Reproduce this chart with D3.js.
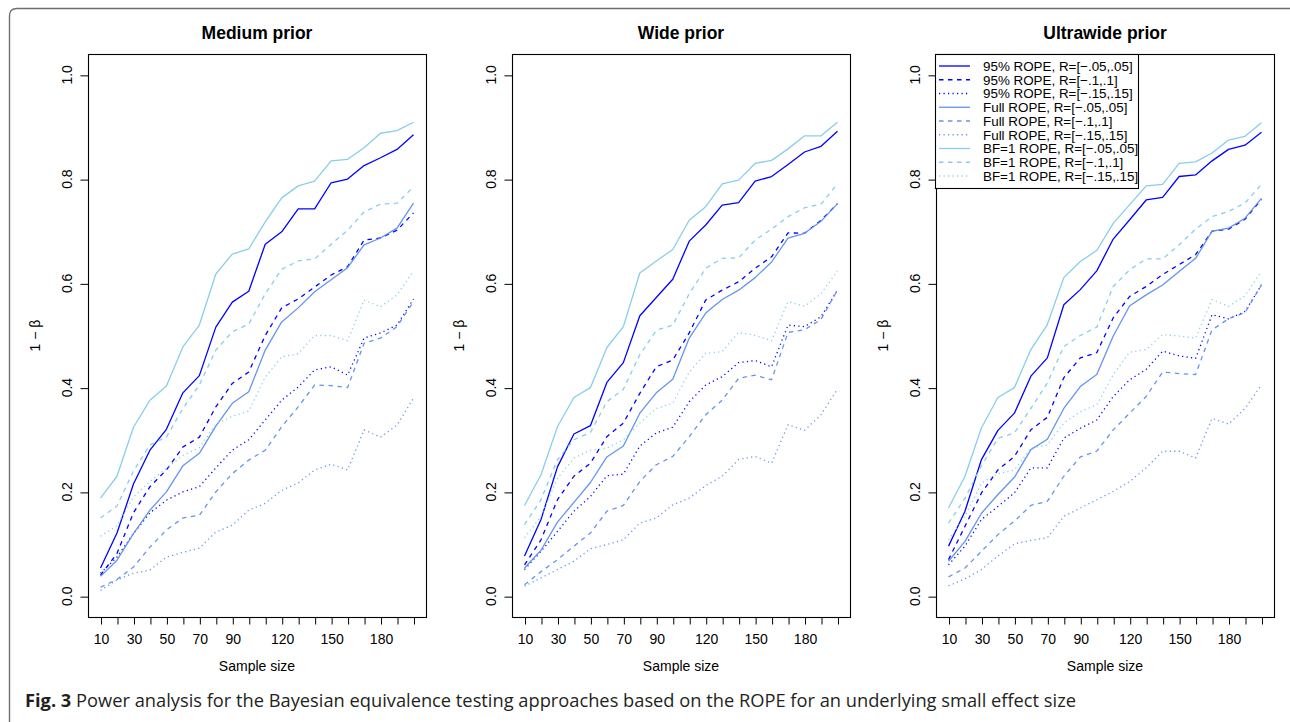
<!DOCTYPE html>
<html>
<head>
<meta charset="utf-8">
<script src="https://cdn.jsdelivr.net/npm/d3@7"></script>
<style>
  body { margin: 0; background: #fff; }
  svg { display: block; }
</style>
</head>
<body>
<svg id="fig" width="1290" height="722"></svg>
<script>
// ---- data ----
const sampleSizes = [10, 20, 30, 40, 50, 60, 70, 80, 90, 100, 110, 120, 130, 140, 150, 160, 170, 180, 190, 200];
const xTickLabels = [10, 30, 50, 70, 90, 120, 150, 180];
const yTicks = [0, 0.2, 0.4, 0.6, 0.8, 1.0];
const panelTitles = ["Medium prior", "Wide prior", "Ultrawide prior"];
const seriesNames = [
  "95% ROPE, R=[\u2212.05,.05]", "95% ROPE, R=[\u2212.1,.1]", "95% ROPE, R=[\u2212.15,.15]",
  "Full ROPE, R=[\u2212.05,.05]", "Full ROPE, R=[\u2212.1,.1]", "Full ROPE, R=[\u2212.15,.15]",
  "BF=1 ROPE, R=[\u2212.05,.05]", "BF=1 ROPE, R=[\u2212.1,.1]", "BF=1 ROPE, R=[\u2212.15,.15]"
];

// power per sample size, series in legend order
const mediumPrior = [
  [0.054, 0.121, 0.215, 0.28, 0.32, 0.39, 0.423, 0.516, 0.564, 0.585, 0.675, 0.699, 0.743, 0.743, 0.793, 0.80, 0.826, 0.841, 0.857, 0.885],
  [0.04, 0.082, 0.16, 0.21, 0.242, 0.286, 0.305, 0.363, 0.408, 0.43, 0.5, 0.553, 0.57, 0.593, 0.616, 0.632, 0.683, 0.687, 0.702, 0.735],
  [0.044, 0.075, 0.12, 0.16, 0.184, 0.2, 0.21, 0.246, 0.28, 0.3, 0.338, 0.376, 0.401, 0.434, 0.44, 0.424, 0.495, 0.505, 0.52, 0.57],
  [0.038, 0.069, 0.12, 0.165, 0.2, 0.25, 0.274, 0.326, 0.37, 0.392, 0.472, 0.526, 0.553, 0.584, 0.607, 0.63, 0.674, 0.687, 0.706, 0.754],
  [0.017, 0.032, 0.056, 0.094, 0.127, 0.15, 0.155, 0.2, 0.235, 0.261, 0.28, 0.325, 0.363, 0.405, 0.404, 0.40, 0.485, 0.495, 0.517, 0.565],
  [0.011, 0.031, 0.044, 0.05, 0.075, 0.084, 0.092, 0.123, 0.136, 0.165, 0.178, 0.203, 0.217, 0.242, 0.253, 0.242, 0.319, 0.305, 0.328, 0.38],
  [0.188, 0.23, 0.324, 0.376, 0.403, 0.478, 0.52, 0.618, 0.656, 0.666, 0.718, 0.764, 0.787, 0.796, 0.835, 0.838, 0.86, 0.888, 0.893, 0.909],
  [0.15, 0.173, 0.24, 0.29, 0.305, 0.36, 0.405, 0.472, 0.507, 0.522, 0.58, 0.627, 0.643, 0.647, 0.675, 0.702, 0.737, 0.752, 0.754, 0.785],
  [0.115, 0.135, 0.19, 0.22, 0.245, 0.27, 0.285, 0.33, 0.345, 0.355, 0.42, 0.459, 0.465, 0.50, 0.50, 0.49, 0.568, 0.555, 0.578, 0.624]
];
const widePrior = [
  [0.077, 0.147, 0.248, 0.311, 0.327, 0.41, 0.448, 0.538, 0.573, 0.608, 0.681, 0.712, 0.75, 0.755, 0.796, 0.805, 0.828, 0.852, 0.863, 0.892],
  [0.06, 0.108, 0.185, 0.23, 0.255, 0.306, 0.332, 0.389, 0.44, 0.453, 0.505, 0.568, 0.587, 0.603, 0.629, 0.651, 0.697, 0.696, 0.721, 0.753],
  [0.051, 0.086, 0.124, 0.163, 0.191, 0.231, 0.234, 0.288, 0.313, 0.324, 0.373, 0.405, 0.421, 0.448, 0.452, 0.44, 0.52, 0.517, 0.536, 0.587],
  [0.054, 0.088, 0.142, 0.18, 0.218, 0.267, 0.288, 0.351, 0.39, 0.416, 0.495, 0.543, 0.569, 0.587, 0.611, 0.641, 0.687, 0.696, 0.719, 0.753],
  [0.022, 0.047, 0.07, 0.096, 0.121, 0.163, 0.174, 0.22, 0.252, 0.268, 0.306, 0.348, 0.376, 0.418, 0.424, 0.415, 0.506, 0.511, 0.531, 0.587],
  [0.019, 0.035, 0.051, 0.067, 0.091, 0.099, 0.108, 0.14, 0.15, 0.175, 0.188, 0.212, 0.23, 0.262, 0.268, 0.255, 0.329, 0.318, 0.348, 0.397],
  [0.174, 0.233, 0.325, 0.381, 0.4, 0.477, 0.517, 0.62, 0.643, 0.665, 0.721, 0.747, 0.791, 0.798, 0.83, 0.836, 0.858, 0.883, 0.883, 0.909],
  [0.137, 0.185, 0.262, 0.3, 0.314, 0.373, 0.397, 0.463, 0.51, 0.52, 0.58, 0.629, 0.648, 0.649, 0.683, 0.704, 0.728, 0.745, 0.752, 0.791],
  [0.112, 0.153, 0.226, 0.265, 0.28, 0.284, 0.30, 0.332, 0.36, 0.37, 0.43, 0.466, 0.469, 0.506, 0.50, 0.49, 0.565, 0.556, 0.58, 0.624]
];
const ultrawidePrior = [
  [0.096, 0.163, 0.262, 0.318, 0.351, 0.422, 0.457, 0.559, 0.588, 0.624, 0.685, 0.722, 0.76, 0.765, 0.805, 0.808, 0.835, 0.857, 0.865, 0.89],
  [0.07, 0.134, 0.198, 0.242, 0.268, 0.319, 0.343, 0.419, 0.457, 0.467, 0.534, 0.575, 0.594, 0.617, 0.636, 0.655, 0.70, 0.704, 0.723, 0.761],
  [0.06, 0.096, 0.147, 0.172, 0.198, 0.246, 0.246, 0.303, 0.322, 0.338, 0.383, 0.415, 0.435, 0.47, 0.461, 0.456, 0.54, 0.532, 0.546, 0.597],
  [0.067, 0.105, 0.159, 0.195, 0.228, 0.281, 0.301, 0.36, 0.402, 0.425, 0.499, 0.557, 0.578, 0.597, 0.623, 0.648, 0.70, 0.706, 0.725, 0.763],
  [0.037, 0.054, 0.086, 0.118, 0.144, 0.174, 0.182, 0.23, 0.267, 0.278, 0.319, 0.351, 0.383, 0.43, 0.427, 0.425, 0.511, 0.532, 0.544, 0.597],
  [0.02, 0.033, 0.051, 0.077, 0.10, 0.107, 0.112, 0.153, 0.169, 0.185, 0.201, 0.22, 0.246, 0.278, 0.278, 0.265, 0.341, 0.33, 0.36, 0.405],
  [0.169, 0.23, 0.323, 0.381, 0.40, 0.473, 0.521, 0.611, 0.642, 0.663, 0.715, 0.751, 0.787, 0.79, 0.83, 0.833, 0.85, 0.875, 0.882, 0.908],
  [0.14, 0.188, 0.25, 0.303, 0.313, 0.36, 0.409, 0.479, 0.50, 0.516, 0.594, 0.626, 0.647, 0.647, 0.674, 0.704, 0.728, 0.738, 0.754, 0.79],
  [0.108, 0.153, 0.217, 0.235, 0.242, 0.284, 0.29, 0.332, 0.354, 0.367, 0.425, 0.468, 0.473, 0.502, 0.499, 0.495, 0.569, 0.556, 0.576, 0.623]
];
const panels = [mediumPrior, widePrior, ultrawidePrior];

// ---- styles ----
const COLORS = ["#0000ff", "#0000ff", "#0000ff", "#6495ed", "#6495ed", "#6495ed", "#87ceeb", "#87ceeb", "#87ceeb"];
const DASHES = ["none", "4.5,4.5", "1.2,3.3", "none", "4.5,4.5", "1.2,3.3", "none", "4.5,4.5", "1.2,3.3"];
const FONT = "'Liberation Sans', Arial, Helvetica, sans-serif";

const LAYOUT = { left0: 88, step: 424, width: 338, top: 54, bottom: 617 };

const svg = d3.select("#fig");

// figure frame (journal style border)
svg.append("path")
  .attr("d", "M 9.5 722 L 9.5 16 Q 9.5 8.5 17 8.5 L 1290 8.5")
  .attr("fill", "none")
  .attr("stroke", "#6e6e6e")
  .attr("stroke-width", 1.4);

panels.forEach((series, p) => {
  const left = LAYOUT.left0 + p * LAYOUT.step;
  const right = left + LAYOUT.width;

  // R style 4% padding on both axes
  const x = d3.scaleLinear().domain([2.4, 207.6]).range([left, right]);
  const y = d3.scaleLinear().domain([-0.04, 1.04]).range([LAYOUT.bottom, LAYOUT.top]);

  const g = svg.append("g");

  // lines
  const line = d3.line()
    .x((d, i) => x(sampleSizes[i]))
    .y(d => y(d));

  series.forEach((vals, s) => {
    g.append("path")
      .datum(vals)
      .attr("d", line)
      .attr("fill", "none")
      .attr("stroke", COLORS[s])
      .attr("stroke-width", 1.3)
      .attr("stroke-dasharray", DASHES[s])
      .attr("stroke-linejoin", "round");
  });

  // box
  g.append("rect")
    .attr("x", left + 0.5).attr("y", LAYOUT.top + 0.5)
    .attr("width", LAYOUT.width).attr("height", LAYOUT.bottom - LAYOUT.top)
    .attr("fill", "none").attr("stroke", "#000").attr("stroke-width", 1.1);

  // x axis
  const xAxis = g.append("g")
    .attr("transform", `translate(0.5,${LAYOUT.bottom + 0.5})`)
    .call(d3.axisBottom(x)
      .tickValues(sampleSizes)
      .tickSize(7)
      .tickSizeOuter(0)
      .tickPadding(10)
      .tickFormat(d => xTickLabels.includes(d) ? d : ""));
  xAxis.select(".domain").remove();
  xAxis.selectAll("line").attr("stroke", "#000");
  xAxis.selectAll("text")
    .attr("font-family", FONT).attr("font-size", 14).attr("fill", "#000");

  // y axis
  const yAxis = g.append("g")
    .attr("transform", `translate(${left + 0.5},0.5)`)
    .call(d3.axisLeft(y).tickValues(yTicks).tickSize(8).tickSizeOuter(0).tickFormat(""));
  yAxis.select(".domain").remove();
  yAxis.selectAll("line").attr("stroke", "#000");

  g.selectAll(".ylab")
    .data(yTicks)
    .enter().append("text")
    .attr("transform", d => `translate(${left - 16},${y(d)}) rotate(-90)`)
    .attr("text-anchor", "middle")
    .attr("font-family", FONT).attr("font-size", 14)
    .text(d => d.toFixed(1));

  // axis titles
  g.append("text")
    .attr("transform", `translate(${left - 48},${(LAYOUT.top + LAYOUT.bottom) / 2}) rotate(-90)`)
    .attr("text-anchor", "middle")
    .attr("font-family", FONT).attr("font-size", 14)
    .text("1 \u2212 \u03b2");

  g.append("text")
    .attr("x", (left + right) / 2).attr("y", 671)
    .attr("text-anchor", "middle")
    .attr("font-family", FONT).attr("font-size", 14)
    .text("Sample size");

  g.append("text")
    .attr("x", (left + right) / 2).attr("y", 39)
    .attr("text-anchor", "middle")
    .attr("font-family", FONT).attr("font-size", 17.5).attr("font-weight", "bold")
    .text(panelTitles[p]);

  // legend in the last panel
  if (p === 2) {
    const lg = g.append("g");
    const rowH = 13.75;
    lg.append("rect")
      .attr("x", left - 0.5).attr("y", LAYOUT.top + 0.5)
      .attr("width", 203).attr("height", 134)
      .attr("fill", "#fff").attr("stroke", "#000").attr("stroke-width", 1.1);
    seriesNames.forEach((name, s) => {
      const cy = LAYOUT.top + 12 + s * rowH;
      lg.append("line")
        .attr("x1", left + 3).attr("x2", left + 34)
        .attr("y1", cy).attr("y2", cy)
        .attr("stroke", COLORS[s]).attr("stroke-width", 1.3)
        .attr("stroke-dasharray", DASHES[s]);
      lg.append("text")
        .attr("x", left + 47).attr("y", cy + 4.8)
        .attr("font-family", FONT).attr("font-size", 13.4)
        .text(name);
    });
  }
});

// caption
const cap = svg.append("text")
  .attr("x", 25).attr("y", 707)
  .attr("font-family", "'Open Sans', 'Noto Sans', sans-serif")
  .attr("font-size", 19)
  .attr("fill", "#231f20");
cap.append("tspan").attr("font-weight", "bold").text("Fig. 3");
cap.append("tspan").text(" Power analysis for the Bayesian equivalence testing approaches based on the ROPE for an underlying small effect size");
const w = cap.node().getComputedTextLength();
cap.attr("font-size", 19 * 1052 / w);
</script>
</body>
</html>
